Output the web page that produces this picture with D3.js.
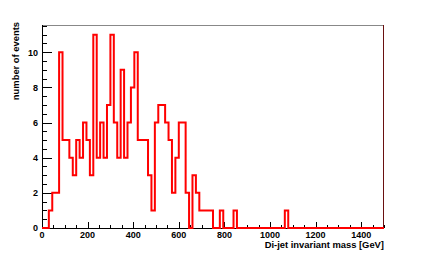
<!DOCTYPE html>
<html>
<head>
<meta charset="utf-8">
<script src="https://cdn.jsdelivr.net/npm/d3@7"></script>
<style>
  html, body { margin: 0; padding: 0; background: #fff; }
  svg text { font-family: "Liberation Sans", Arial, sans-serif; font-weight: bold; fill: #000; }
</style>
</head>
<body>
<div id="chart"></div>
<script>
const width = 427;
const height = 254;
const margin = { top: 25, right: 43, bottom: 26, left: 42 };

// histogram: 100 bins of 15 GeV from 0 to 1500
const xRange = [0, 1500];
const binWidth = 15;
const counts = [
  0, 0, 1, 2, 2, 10, 5, 5, 4, 3,
  5, 4, 6, 5, 3, 11, 4, 6, 4, 7,
  11, 6, 4, 9, 4, 6, 8, 10, 5, 5,
  5, 3, 1, 6, 7, 7, 6, 5, 2, 4,
  6, 6, 2, 0, 3, 2, 1, 1, 1, 1,
  0, 0, 1, 0, 0, 0, 1, 0, 0, 0,
  0, 0, 0, 0, 0, 0, 0, 0, 0, 0,
  0, 1, 0, 0, 0, 0, 0, 0, 0, 0,
  0, 0, 0, 0, 0, 0, 0, 0, 0, 0,
  0, 0, 0, 0, 0, 0, 0, 0, 0, 0
];
const xTickValues = [0, 200, 400, 600, 800, 1000, 1200, 1400];
const yTickValues = [0, 2, 4, 6, 8, 10];
const xTitle = "Di-jet invariant mass [GeV]";
const yTitle = "number of events";

const svg = d3.select("#chart")
  .append("svg")
  .attr("width", width)
  .attr("height", height);

const x = d3.scaleLinear().domain(xRange).range([margin.left, width - margin.right]);
const y = d3.scaleLinear().domain([0, d3.max(counts) * 1.05]).range([height - margin.bottom, margin.top]);

const x0 = margin.left, x1 = width - margin.right;
const y0 = height - margin.bottom, y1 = margin.top;

// frame top / right
svg.append("line").attr("x1", x0).attr("x2", x1).attr("y1", y1 + 0.5).attr("y2", y1 + 0.5)
  .attr("stroke", "#888").attr("stroke-width", 1);
svg.append("line").attr("x1", x1 - 0.5).attr("x2", x1 - 0.5).attr("y1", y1).attr("y2", y0)
  .attr("stroke", "#6a1010").attr("stroke-width", 1);

// y axis: major every 2, minor every 0.5, ticks inward
const yMinor = d3.range(0, y.domain()[1], 0.5);
svg.append("g")
  .selectAll("line")
  .data(yMinor)
  .join("line")
  .attr("x1", x0)
  .attr("x2", d => x0 + (d % 2 === 0 ? 10 : 5))
  .attr("y1", d => Math.round(y(d)) + 0.5)
  .attr("y2", d => Math.round(y(d)) + 0.5)
  .attr("stroke", "#000");

svg.append("g")
  .selectAll("text")
  .data(yTickValues)
  .join("text")
  .attr("x", x0 - 4)
  .attr("y", d => y(d) + 3.3)
  .attr("text-anchor", "end")
  .attr("font-size", 9)
  .text(d => d);

// x axis: major every 200, minor every 50
const xMinor = d3.range(0, xRange[1] + 1, 50);
svg.append("g")
  .selectAll("line")
  .data(xMinor)
  .join("line")
  .attr("x1", d => Math.round(x(d)) + 0.5)
  .attr("x2", d => Math.round(x(d)) + 0.5)
  .attr("y1", y0)
  .attr("y2", d => y0 - (d % 200 === 0 ? 6 : 3))
  .attr("stroke", "#000");

svg.append("g")
  .selectAll("text")
  .data(xTickValues)
  .join("text")
  .attr("x", d => x(d))
  .attr("y", y0 + 9.5)
  .attr("text-anchor", "middle")
  .attr("font-size", 9)
  .text(d => d);

// axis lines
svg.append("line").attr("x1", x0 + 0.5).attr("x2", x0 + 0.5).attr("y1", y1).attr("y2", y0)
  .attr("stroke", "#000");
svg.append("line").attr("x1", x0).attr("x2", x1).attr("y1", y0 + 0.5).attr("y2", y0 + 0.5)
  .attr("stroke", "#000");

// histogram step line
const pts = counts.map((c, i) => [xRange[0] + i * binWidth, c]);
pts.push([xRange[1], counts[counts.length - 1]]);

const line = d3.line()
  .x(d => x(d[0]))
  .y(d => y(d[1]))
  .curve(d3.curveStepAfter);

svg.append("path")
  .datum(pts)
  .attr("d", line)
  .attr("fill", "none")
  .attr("stroke", "#ff0000")
  .attr("stroke-width", 2);

// titles
svg.append("text")
  .attr("x", x1)
  .attr("y", 247.5)
  .attr("text-anchor", "end")
  .attr("font-size", 9.4)
  .text(xTitle);

svg.append("text")
  .attr("transform", `translate(18.5, ${y1 - 3}) rotate(-90)`)
  .attr("text-anchor", "end")
  .attr("font-size", 9.4)
  .text(yTitle);
</script>
</body>
</html>
